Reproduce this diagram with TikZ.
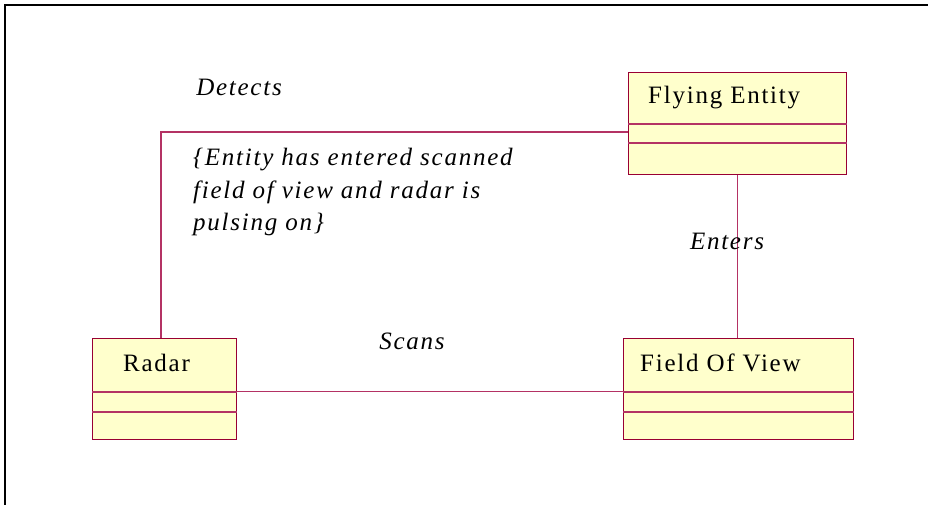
\documentclass[tikz,border=0pt]{standalone}
\usepackage{fontspec}
\setmainfont{Liberation Serif}[LetterSpace=7]
\definecolor{umlborder}{RGB}{153,0,51}
\definecolor{umlline}{RGB}{180,50,100}
\definecolor{umlfill}{RGB}{255,255,204}
\begin{document}
\begin{tikzpicture}[x=1pt, y=-1pt, font=\fontsize{25}{32.5}\selectfont,
  classbox/.style={draw=umlborder, fill=umlfill, line width=1.2pt, anchor=north west, inner sep=0pt},
  classname/.style={anchor=west, inner sep=0pt},
  divider/.style={umlline, line width=1.2pt},
  assoc/.style={umlline, line width=1.2pt},
  assoclabel/.style={font=\fontsize{25}{32.5}\selectfont\itshape, inner sep=0pt}]

\useasboundingbox (0,0) rectangle (928,505);
\draw[line width=2pt] (928,5) -- (5,5) -- (5,505);

% classes
\node[classbox, minimum width=218pt, minimum height=102pt] (fly) at (628,72) {};
\node[classname] (flyname) at (648,98) {Flying Entity};
\draw[divider] (fly.west |- 0,124) -- (fly.east |- 0,124);
\draw[divider] (fly.west |- 0,143) -- (fly.east |- 0,143);

\node[classbox, minimum width=144pt, minimum height=101pt] (radar) at (92,338) {};
\node[classname] (radarname) at (123,363) {Radar};
\draw[divider] (radar.west |- 0,392) -- (radar.east |- 0,392);
\draw[divider] (radar.west |- 0,412) -- (radar.east |- 0,412);

\node[classbox, minimum width=230pt, minimum height=101pt] (fov) at (623,338) {};
\node[classname] (fovname) at (640,363) {Field Of View};
\draw[divider] (fov.west |- 0,392) -- (fov.east |- 0,392);
\draw[divider] (fov.west |- 0,412) -- (fov.east |- 0,412);

% associations
\coordinate (detcorner) at (161,132);
\draw[assoc] (radar.north -| detcorner) -- (detcorner) -- (fly.west |- detcorner);
\draw[assoc] (fly.south) -- (fly.south |- fov.north);
\draw[assoc] ([yshift=-2.5pt]radar.east) -- ([yshift=-2.5pt]fov.west);

\node[assoclabel] (detects) at (239,87) {Detects};
\node[assoclabel, anchor=west, align=left] (guard) at (193,192) {\{Entity has entered scanned\\field of view and radar is\\pulsing on\}};
\node[assoclabel] (enters) at (727,241) {Enters};
\node[assoclabel] (scans) at (412,341) {Scans};
\end{tikzpicture}
\end{document}
